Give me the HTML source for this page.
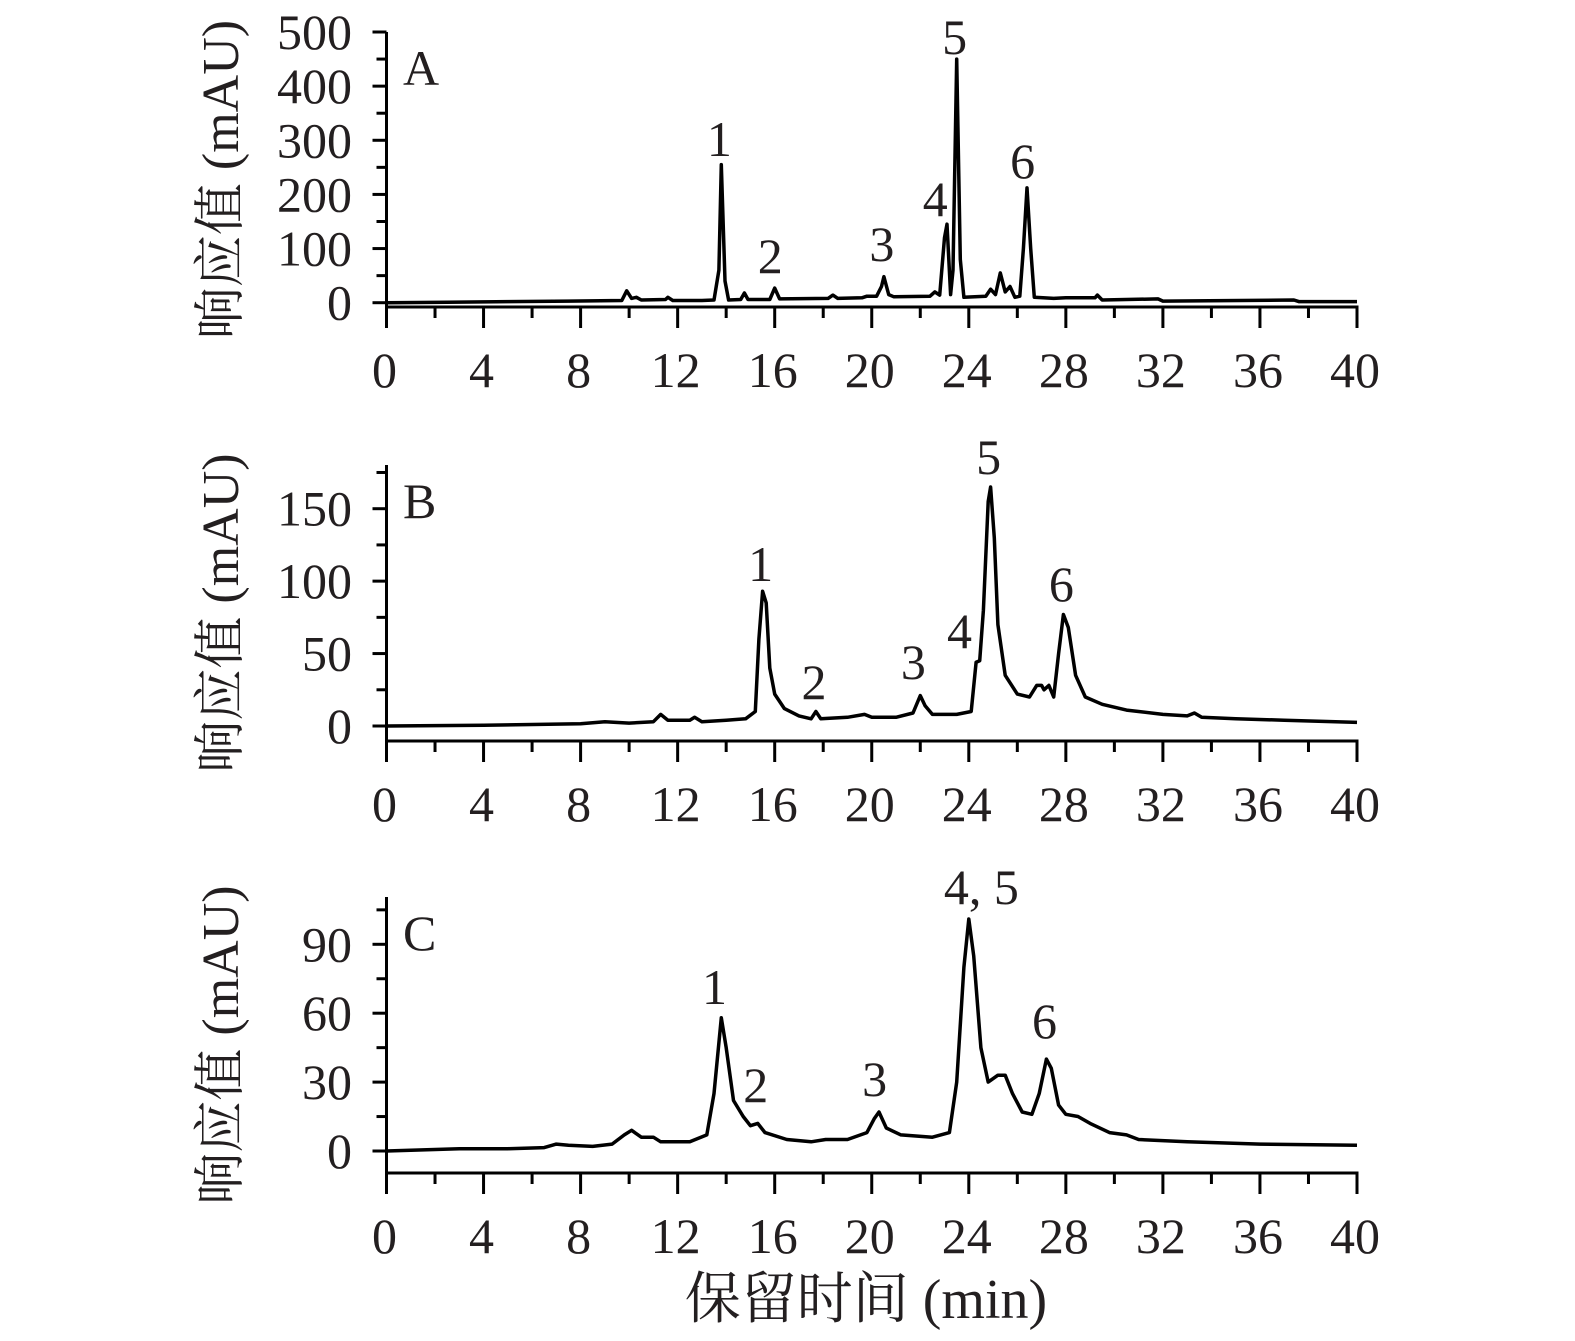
<!DOCTYPE html>
<html><head><meta charset="utf-8"><style>
body{margin:0;background:#fff}
svg{display:block}
text{font-family:"Liberation Serif","Noto Serif CJK SC",serif;fill:#231f20}
</style></head><body>
<svg id="chart" width="1575" height="1341" viewBox="0 0 1575 1341" xmlns="http://www.w3.org/2000/svg"></svg>
<script>
const xTicks=[0,4,8,12,16,20,24,28,32,36,40];
const aTicks=[0,100,200,300,400,500];
const bTicks=[0,50,100,150];
const cTicks=[0,30,60,90];
const seriesA=[[0,0],[2.5,1],[5,2],[7.5,3],[9.7,4],[9.9,22],[10.1,8],[10.3,10],[10.5,5],[11.5,6],[11.6,10],[11.8,4],[13.0,4],[13.5,5],[13.7,60],[13.8,255],[13.95,40],[14.1,5],[14.6,6],[14.75,18],[14.9,6],[15.8,6],[16.0,27],[16.2,7],[18.2,8],[18.4,14],[18.6,8],[19.6,9],[19.8,12],[20.2,12],[20.4,30],[20.5,48],[20.7,15],[20.9,11],[22.4,12],[22.6,20],[22.8,14],[23.0,120],[23.1,145],[23.25,15],[23.35,60],[23.5,450],[23.65,80],[23.8,10],[24.7,12],[24.9,25],[25.1,15],[25.3,55],[25.5,20],[25.7,30],[25.9,10],[26.1,12],[26.25,100],[26.4,212],[26.55,100],[26.7,10],[27.5,8],[28.0,9],[29.2,9],[29.3,14],[29.5,5],[31.8,7],[32.0,3],[37.4,5],[37.6,2],[40,2]];
const seriesB=[[0,0],[4,0.5],[8,1.5],[9,3],[10,2],[11,3],[11.3,8],[11.6,4],[12.5,4],[12.7,6],[13,3],[14,4],[14.8,5],[15.2,10],[15.35,60],[15.5,93],[15.65,85],[15.8,40],[16,22],[16.4,12],[17,7],[17.5,5],[17.7,10],[17.9,5],[19,6],[19.7,8],[20,6],[21,6],[21.7,9],[22,21],[22.2,14],[22.5,8],[23.5,8],[24.1,10],[24.3,44],[24.45,45],[24.6,80],[24.8,155],[24.9,165],[25.05,130],[25.2,70],[25.5,35],[26,22],[26.5,20],[26.8,28],[27.0,28],[27.1,25],[27.3,28],[27.5,20],[27.7,50],[27.9,77],[28.1,68],[28.4,35],[28.8,20],[29.5,15],[30.5,11],[31,10],[32,8],[33,7],[33.3,9],[33.6,6],[35,5],[37,4],[40,2.5]];
const seriesC=[[0,0],[1.5,0.5],[3,1],[5,1],[6.5,1.5],[7,3],[7.5,2.5],[8.5,2],[9.3,3],[9.8,7],[10.1,9],[10.5,6],[11,6],[11.3,4],[12.5,4],[13.2,7],[13.5,25],[13.8,58],[14.0,45],[14.3,22],[14.7,15],[15.0,11],[15.3,12],[15.6,8],[16.5,5],[17.5,4],[18.1,5],[19,5],[19.8,8],[20.1,14],[20.3,17],[20.6,10],[21.2,7],[22.5,6],[23.2,8],[23.5,30],[23.8,80],[24.0,101],[24.2,85],[24.5,45],[24.8,30],[25.2,33],[25.5,33],[25.8,25],[26.2,17],[26.6,16],[26.9,25],[27.2,40],[27.4,36],[27.7,20],[28.0,16],[28.5,15],[29,12],[29.8,8],[30.5,7],[31,5],[33,4],[36,3],[40,2.5]];
const peakLabelsA=[["1",13.8],["2",15.9],["3",20.5],["4",22.7],["5",23.5],["6",26.3]];
const peakLabelsB=[["1",15.5],["2",17.7],["3",21.8],["4",23.7],["5",24.9],["6",27.9]];
const peakLabelsC=[["1",13.6],["2",15.3],["3",20.2],["4, 5",24.6],["6",27.2]];

const NS="http://www.w3.org/2000/svg";
const svg=document.getElementById('chart');
function mk(tag,attrs,parent){const e=document.createElementNS(NS,tag);for(const k in attrs)e.setAttribute(k,attrs[k]);(parent||svg).appendChild(e);return e;}
const X0=386.5,X1=1357;
function xs(t){return X0+(X1-X0)*t/40;}

const panels=[
 {id:'a',letter:'A',data:seriesA,ticks:aTicks,minor:50,ymax:500,y0:302.7,ytop:32,axisY:307,labels:peakLabelsA,labY:[156,273,261,216,54,178]},
 {id:'b',letter:'B',data:seriesB,ticks:bTicks,minor:25,ymax:180,y0:726,ytop:465,yref:[150,508.7],axisY:741,labels:peakLabelsB,labY:[581,699,679,648,474,601]},
 {id:'c',letter:'C',data:seriesC,ticks:cTicks,minor:15,ymax:111,y0:1151,ytop:897,yref:[90,944.3],axisY:1173,labels:peakLabelsC,labY:[1004,1102,1096,904,1038]}
];
panels.forEach(p=>{
  const g=mk('g',{});
  
  
  const scale=p.yref?(p.y0-p.yref[1])/p.yref[0]:(p.y0-p.ytop)/p.ymax;
  const ys=v=>p.y0-v*scale;
  const ya=mk('line',{x1:X0,x2:X0,y1:p.ytop,y2:p.axisY+21,stroke:'#000','stroke-width':3},g);
  
  
  for(let v=0;v<=p.ymax+0.001;v+=p.minor){
    const major=p.ticks.includes(v);
    const tk=mk('line',{x1:X0-(major?14:10),x2:X0,y1:ys(v),y2:ys(v),stroke:'#000','stroke-width':3},g);
    
    
  }
  p.ticks.forEach(v=>{
    const t=mk('text',{x:352,y:ys(v)+17,'text-anchor':'end','font-size':50},g);
    t.textContent=v;
    
    
  });
  const xa=mk('line',{x1:X0-1.5,x2:X1+1.5,y1:p.axisY,y2:p.axisY,stroke:'#000','stroke-width':3},g);
  
  
  for(let t=0;t<=40;t+=2){
    const major=t%4===0;
    const tk=mk('line',{x1:xs(t),x2:xs(t),y1:p.axisY,y2:p.axisY+(major?21:11),stroke:'#000','stroke-width':3},g);
    
    
  }
  xTicks.forEach(t=>{
    const tl=mk('text',{x:xs(t)-2,y:p.axisY+80,'text-anchor':'middle','font-size':50},g);
    tl.textContent=t;
    
    
  });
  const d=p.data.map((pt,i)=>(i?'L':'M')+xs(pt[0]).toFixed(1)+' '+ys(pt[1]).toFixed(1)).join(' ');
  const path=mk('path',{d:d,fill:'none',stroke:'#000','stroke-width':3.5,'stroke-linejoin':'round'},g);
  
  
  p.labels.forEach((l,i)=>{
    const tx=mk('text',{x:xs(l[1])-2,y:p.labY[i],'text-anchor':'middle','font-size':50},g);
    tx.textContent=l[0];
    
    
  });
  const pl=mk('text',{x:403,y:p.ytop+53,'font-size':50},g);
  pl.textContent=p.letter;
  
  
  const cy=(p.ytop+p.axisY+20)/2;
  const yt=mk('text',{x:0,y:0,'text-anchor':'middle','font-size':52,transform:'translate(238,'+cy+') rotate(-90)'},g);
  yt.textContent='响应值 (mAU)';
  
  
});
const xt=mk('text',{x:866,y:1318,'text-anchor':'middle','font-size':56});
xt.textContent='保留时间 (min)';


</script>
</body></html>
